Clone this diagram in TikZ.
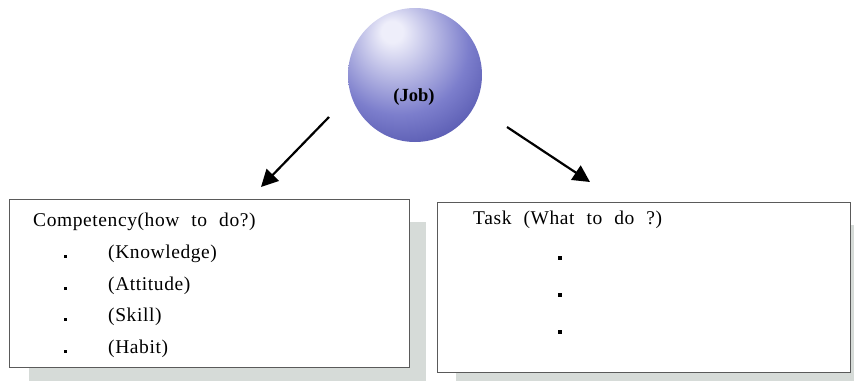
\documentclass[tikz,border=0pt]{standalone}
\usepackage{fontspec}
\setmainfont{Liberation Serif}[WordSpace=2.2,LetterSpace=3]
\newfontfamily\jobfont{Liberation Serif}
\usetikzlibrary{arrows.meta}

\definecolor{shadowgray}{RGB}{214,219,216}
\definecolor{boxline}{RGB}{90,90,90}
\definecolor{jobhi}{RGB}{238,238,250}
\definecolor{jobmid}{RGB}{124,126,204}
\definecolor{jobedge}{RGB}{46,48,145}
\pgfdeclareradialshading{jobball}{\pgfpoint{-9bp}{17bp}}{color(0bp)=(jobhi); color(4bp)=(jobhi); color(26bp)=(jobmid); color(50bp)=(jobedge); color(76bp)=(jobedge!85!black)}

\tikzset{
  txt/.style={inner sep=0pt, anchor=west, font=\fontsize{19.5}{22}\selectfont},
  dotmark/.style={fill=black, inner sep=0pt, minimum size=3pt},
  box/.style={draw=boxline, line width=1.2pt, fill=white, anchor=north west, inner sep=0pt},
  jobarrow/.style={line width=2.2pt, -{Triangle[length=17pt,width=17pt]}}
}

\begin{document}
\begin{tikzpicture}[x=1pt,y=-1pt]
\useasboundingbox (0,0) rectangle (854,381);
% the job sphere
\node[circle, minimum size=134pt, inner sep=0pt, shading=jobball] (job) at (415,75) {};
\node[font=\jobfont\bfseries\fontsize{18.5}{20}\selectfont, inner sep=0pt] (jobname) at (414,97) {(Job)};

% arrows out of the sphere
\coordinate (ltail) at (329,117);
\coordinate (lhead) at (261,187);
\coordinate (rtail) at (507,127);
\coordinate (rhead) at (590,182);
\draw[jobarrow] (ltail) -- (lhead);
\draw[jobarrow] (rtail) -- (rhead);

% competency box with its shadow
\fill[shadowgray] (29,222) rectangle (426,381);
\node[box, minimum width=400pt, minimum height=168pt] (competency) at (9,199) {};
\node[txt] (comptitle) at (33,222) {Competency(how to do?)};
\node[dotmark] (b1) at (65,256) {};
\node[txt] (knowledge) at (108,254) {(Knowledge)};
\node[dotmark] (b2) at (65,288) {};
\node[txt] (attitude) at (108,286) {(Attitude)};
\node[dotmark] (b3) at (65,319) {};
\node[txt] (skill) at (108,317) {(Skill)};
\node[dotmark] (b4) at (65,351) {};
\node[txt] (habit) at (108,349) {(Habit)};

% task box with its shadow
\fill[shadowgray] (456,225) rectangle (854,381);
\node[box, minimum width=413pt, minimum height=170pt] (task) at (437,202) {};
\node[txt] (tasktitle) at (473,220) {Task (What to do ?)};
\node[dotmark, minimum size=3.2pt] (t1) at (560,258) {};
\node[dotmark, minimum size=3.2pt] (t2) at (560,295) {};
\node[dotmark, minimum size=3.2pt] (t3) at (560,332) {};
\end{tikzpicture}
\end{document}
